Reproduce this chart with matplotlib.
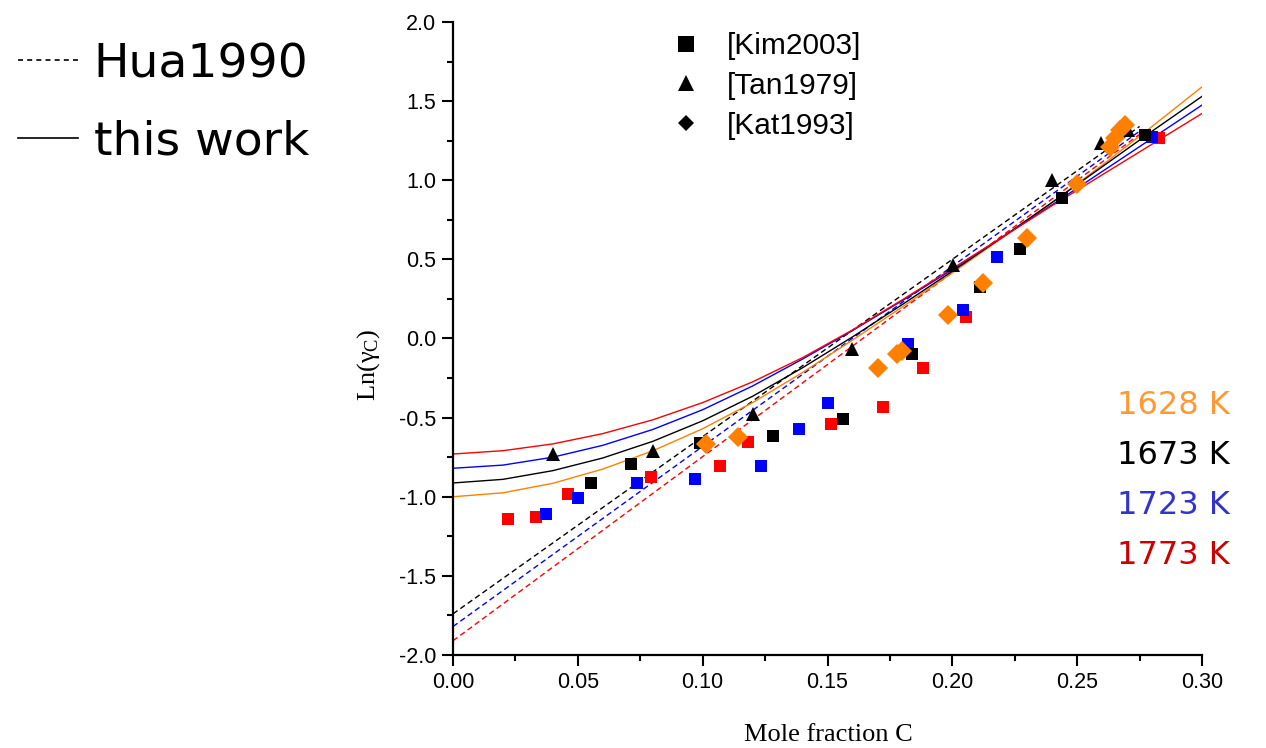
import matplotlib
matplotlib.use("Agg")
import matplotlib.pyplot as plt
from matplotlib.lines import Line2D
from matplotlib.ticker import MultipleLocator, FormatStrFormatter

plt.rcParams["font.family"] = ["Liberation Sans", "DejaVu Sans"]
plt.rcParams["mathtext.fontset"] = "custom"
plt.rcParams["mathtext.rm"] = "Liberation Serif"
plt.rcParams["mathtext.it"] = "Liberation Serif:italic"

COL_ORANGE = "#FF8000"
COL_BLACK = "#000000"
COL_BLUE = "#0000FF"
COL_RED = "#FF0000"

# --- this work (solid curves) ---
x_fit = [0.00, 0.02, 0.04, 0.06, 0.08, 0.10, 0.12, 0.14, 0.16, 0.18, 0.20, 0.22, 0.24, 0.26, 0.28, 0.30]
fit_1628 = [-1.000, -0.975, -0.915, -0.825, -0.710, -0.570, -0.405, -0.215, -0.010, 0.200,
            0.415, 0.635, 0.860, 1.095, 1.340, 1.590]
fit_1673 = [-0.913, -0.890, -0.835, -0.755, -0.650, -0.520, -0.365, -0.185, 0.010, 0.215,
            0.425, 0.640, 0.860, 1.085, 1.310, 1.530]
fit_1723 = [-0.820, -0.800, -0.750, -0.675, -0.575, -0.450, -0.300, -0.130, 0.050, 0.240,
            0.435, 0.640, 0.845, 1.055, 1.265, 1.475]
fit_1773 = [-0.730, -0.709, -0.666, -0.601, -0.514, -0.405, -0.274, -0.121, 0.054, 0.245,
            0.442, 0.640, 0.840, 1.034, 1.228, 1.422]

# --- Hua1990 (dashed straight lines) ---
x_hua = [0.0, 0.275]
hua_1673 = [-1.74, 1.34]
hua_1723 = [-1.82, 1.31]
hua_1773 = [-1.91, 1.29]

# --- [Kim2003] squares ---
kim_1673_x = [0.0551, 0.0712, 0.0988, 0.1283, 0.1562, 0.1840, 0.2112, 0.2270, 0.2441, 0.2770]
kim_1673_y = [-0.911, -0.795, -0.662, -0.614, -0.509, -0.098, 0.323, 0.566, 0.886, 1.286]
kim_1723_x = [0.0371, 0.0500, 0.0735, 0.0970, 0.1233, 0.1385, 0.1503, 0.1823, 0.2041, 0.2180, 0.2800]
kim_1723_y = [-1.107, -1.008, -0.913, -0.886, -0.806, -0.572, -0.408, -0.035, 0.180, 0.517, 1.271]
kim_1773_x = [0.0222, 0.0331, 0.0462, 0.0792, 0.1070, 0.1183, 0.1513, 0.1721, 0.1883, 0.2053, 0.2826]
kim_1773_y = [-1.140, -1.128, -0.983, -0.873, -0.804, -0.652, -0.542, -0.433, -0.188, 0.138, 1.265]

# --- [Tan1979] triangles (1673 K) ---
tan_x = [0.0402, 0.0803, 0.1201, 0.1600, 0.2003, 0.2400, 0.2597, 0.2705]
tan_y = [-0.732, -0.711, -0.479, -0.068, 0.464, 1.000, 1.233, 1.317]

# --- [Kat1993] diamonds (1628 K) ---
kat_x = [0.1013, 0.1143, 0.1702, 0.1780, 0.1800, 0.1982, 0.2123, 0.2300, 0.2500, 0.2630, 0.2650, 0.2670, 0.2690]
kat_y = [-0.669, -0.620, -0.188, -0.100, -0.077, 0.150, 0.349, 0.633, 0.978, 1.212, 1.270, 1.320, 1.350]

temp_labels = ["1628 K", "1673 K", "1723 K", "1773 K"]
temp_colors = ["#FF9933", "#000000", "#3333CC", "#CC0000"]

fig = plt.figure(figsize=(12.66, 7.48), dpi=100, facecolor="white")
ax = fig.add_axes([453 / 1266, 1 - 655 / 748, 749 / 1266, 633 / 748])

lw = 1.0
dash = (4, 2.5)
ax.plot(x_hua, hua_1673, color=COL_BLACK, lw=lw, ls=(0, dash))
ax.plot(x_hua, hua_1723, color=COL_BLUE, lw=lw, ls=(0, dash))
ax.plot(x_hua, hua_1773, color=COL_RED, lw=lw, ls=(0, dash))

ax.plot(x_fit, fit_1628, color=COL_ORANGE, lw=lw)
ax.plot(x_fit, fit_1673, color=COL_BLACK, lw=lw)
ax.plot(x_fit, fit_1723, color=COL_BLUE, lw=lw)
ax.plot(x_fit, fit_1773, color=COL_RED, lw=lw)

sq = dict(marker="s", ls="none", ms=8, mew=0)
ax.plot(kim_1773_x, kim_1773_y, color=COL_RED, **sq)
ax.plot(kim_1723_x, kim_1723_y, color=COL_BLUE, **sq)
ax.plot(kim_1673_x, kim_1673_y, color=COL_BLACK, **sq)
ax.plot(tan_x, tan_y, color=COL_BLACK, marker="^", ls="none", ms=10.5, mew=0)
ax.plot(kat_x, kat_y, color=COL_ORANGE, marker="D", ls="none", ms=10, mew=0)

ax.set_xlim(0.0, 0.30)
ax.set_ylim(-2.0, 2.0)
ax.xaxis.set_major_locator(MultipleLocator(0.05))
ax.xaxis.set_minor_locator(MultipleLocator(0.025))
ax.yaxis.set_major_locator(MultipleLocator(0.5))
ax.yaxis.set_minor_locator(MultipleLocator(0.25))
ax.xaxis.set_major_formatter(FormatStrFormatter("%.2f"))
ax.yaxis.set_major_formatter(FormatStrFormatter("%.1f"))
ax.tick_params(which="major", direction="out", length=8, width=1.5, labelsize=15.5, pad=4)
ax.tick_params(which="minor", direction="out", length=4.5, width=1.5)
for side in ["top", "right"]:
    ax.spines[side].set_visible(False)
for side in ["left", "bottom"]:
    ax.spines[side].set_linewidth(1.6)

ax.set_xlabel("Mole fraction C", family="Liberation Serif", fontsize=19)
ax.xaxis.set_label_coords(0.5007, -0.109)
ax.set_ylabel(r"Ln(γ$_{\mathrm{C}}$)", family="Liberation Serif", fontsize=19)
ax.yaxis.set_label_coords(-0.095, 0.458)

# data legend
data_handles = [
    Line2D([], [], color="black", marker="s", ls="none", ms=11, mew=0),
    Line2D([], [], color="black", marker="^", ls="none", ms=12, mew=0),
    Line2D([], [], color="black", marker="D", ls="none", ms=8.5, mew=0),
]
fig.legend(data_handles, ["[Kim2003]", "[Tan1979]", "[Kat1993]"],
           loc="upper left", bbox_to_anchor=(671 / 1266, 1 - 32 / 748),
           frameon=False, fontsize=21.5, handlelength=1.0, handletextpad=0.87,
           labelspacing=0.40, borderpad=0, borderaxespad=0)

# line style legend
style_handles = [
    Line2D([], [], color="black", lw=1.2, ls=(0, (3, 2.5))),
    Line2D([], [], color="black", lw=1.2),
]
fig.legend(style_handles, ["Hua1990", "this work"],
           loc="upper left", bbox_to_anchor=(18 / 1266, 1 - 42 / 748),
           frameon=False, prop={"family": "DejaVu Sans", "size": 34},
           handlelength=1.28, handletextpad=0.32, labelspacing=0.69,
           borderpad=0, borderaxespad=0)

# temperature labels
for i, (lab, col) in enumerate(zip(temp_labels, temp_colors)):
    fig.text(1230 / 1266, 1 - (405 + 50 * i) / 748, lab, color=col,
             family="DejaVu Sans", fontsize=23, ha="right", va="center")

fig.savefig("out.png", dpi=100, facecolor="white")
